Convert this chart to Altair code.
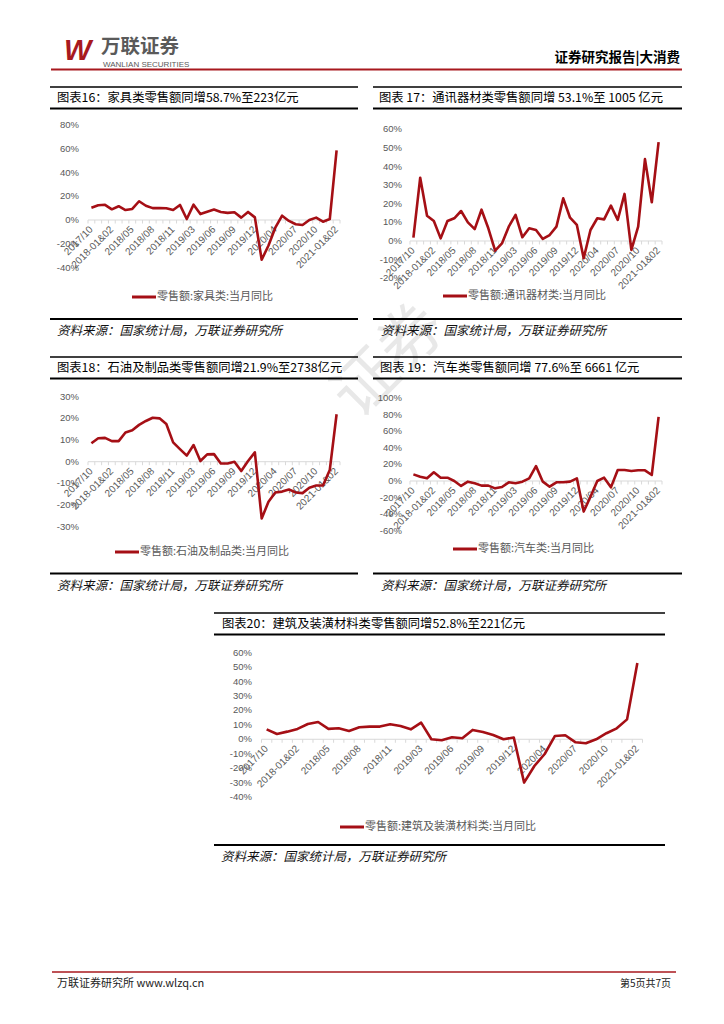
import altair as alt
import pandas as pd

# ---------------- data ----------------
months = ["2017/10", "2017/11", "2017/12", "2018-01&02", "2018/03", "2018/04", "2018/05",
          "2018/06", "2018/07", "2018/08", "2018/09", "2018/10", "2018/11", "2018/12",
          "2019-01&02", "2019/03", "2019/04", "2019/05", "2019/06", "2019/07", "2019/08",
          "2019/09", "2019/10", "2019/11", "2019/12", "2020-01&02", "2020/03", "2020/04",
          "2020/05", "2020/06", "2020/07", "2020/08", "2020/09", "2020/10", "2020/11",
          "2020/12", "2021-01&02"]

furniture = [10.4, 12.4, 12.8, 9.0, 11.6, 8.4, 9.3, 15.8, 12.0, 10.0, 10.0, 9.9, 8.4, 12.7,
             0.8, 12.9, 5.0, 7.0, 8.8, 6.8, 6.0, 6.5, 2.0, 6.8, 2.2, -33.5, -21.5, -6.5,
             3.6, -0.8, -3.6, -4.2, 0.0, 2.0, -1.4, 0.8, 58.7]
telecom = [1.8, 34.0, 13.6, 10.7, 1.4, 10.7, 12.2, 16.1, 10.0, 6.4, 16.8, 6.8, -5.2, -1.3,
           7.7, 14.0, 2.0, 6.8, 5.9, 1.1, 3.2, 7.7, 22.9, 12.5, 8.6, -9.3, 5.9, 12.2,
           11.6, 19.0, 11.3, 25.3, -4.8, 7.7, 44.0, 20.8, 53.1]
petroleum = [8.5, 10.8, 11.0, 9.5, 9.5, 13.5, 14.5, 17.0, 18.8, 20.3, 20.0, 17.4, 8.9, 5.8,
             2.8, 7.7, 0.3, 3.4, 3.5, -0.8, -0.8, 0.0, -4.3, 0.3, 4.3, -26.2, -18.5, -14.2,
             -13.8, -12.8, -14.2, -14.5, -12.0, -11.0, -11.0, -3.8, 21.9]
auto = [8.0, 5.2, 3.2, 10.5, 4.0, 4.0, 0.0, -6.0, -0.8, -2.8, -5.6, -5.6, -8.9, -7.3,
        -1.6, -2.8, -0.8, 3.2, 18.0, -0.8, -6.9, -1.6, -1.6, -0.8, 3.2, -37.0, -19.0, 0.0,
        4.0, -7.7, 13.3, 13.3, 12.0, 12.9, 12.9, 7.3, 77.6]
building = [6.9, 3.7, 5.3, 7.2, 10.6, 12.0, 7.2, 7.6, 5.8, 8.3, 8.8, 8.8, 10.4, 9.2,
            6.9, 11.5, 0.0, -0.7, 1.4, 0.7, 6.5, 5.1, 3.0, 0.0, 1.2, -30.0, -18.5, -10.2,
            2.3, 2.8, -2.1, -2.8, 0.0, 4.2, 7.6, 13.8, 52.8]

titles = ["图表16：家具类零售额同增58.7%至223亿元",
          "图表 17：通讯器材类零售额同增 53.1%至 1005 亿元",
          "图表18：石油及制品类零售额同增21.9%至2738亿元",
          "图表 19：汽车类零售额同增 77.6%至 6661 亿元",
          "图表20：建筑及装潢材料类零售额同增52.8%至221亿元"]
legends = ["零售额:家具类:当月同比", "零售额:通讯器材类:当月同比",
           "零售额:石油及制品类:当月同比", "零售额:汽车类:当月同比",
           "零售额:建筑及装潢材料类:当月同比"]
source = "资料来源：国家统计局，万联证券研究所"
y_ticks = [list(range(-40, 81, 20)), list(range(-20, 61, 10)), list(range(-30, 31, 10)),
           list(range(-60, 101, 20)), list(range(-40, 61, 10))]

# ---------------- styling ----------------
OFF = 8
RED = "#a50f15"
CJK = "Noto Sans CJK SC"
LAT = "Liberation Sans"
one = pd.DataFrame({"k": [0]})


def P(v):
    return v - OFF


def text(s, x, y, size, color="#000000", font=CJK, align="left", weight="normal",
         style="normal", angle=None, opacity=1.0):
    kw = dict(text=s, align=align, baseline="middle", font=font, fontSize=size,
              color=color, fontWeight=weight, fontStyle=style, opacity=opacity)
    if angle is not None:
        kw["angle"] = angle
    return alt.Chart(one).mark_text(**kw).encode(x=alt.value(P(x)), y=alt.value(P(y)))


def hline(x0, x1, y, w, color="#000000"):
    return alt.Chart(one).mark_rule(color=color, strokeWidth=w).encode(
        x=alt.value(P(x0)), x2=alt.value(P(x1)), y=alt.value(P(y)))


layers = []

# watermark (faint)
layers.append(text("证券", 390, 362, 64, color="#c4c4c4", align="center", angle=315,
                   opacity=0.38))

# header
layers.append(text("W", 64, 51, 29, color="#a8191e", font=LAT, weight="bold", style="italic"))
layers.append(text("万联证券", 101, 47, 19.5, color="#5a5a5a", weight="bold"))
layers.append(text("WANLIAN SECURITIES", 103, 65, 8, color="#5a5a5a", font=LAT))
layers.append(text("证券研究报告|大消费", 680, 58, 13.5, align="right", weight="bold"))
layers.append(hline(51, 682, 69.5, 2, "#a8191e"))

# footer
layers.append(hline(52, 676, 972, 1.5, "#a8191e"))
layers.append(text("万联证券研究所 www.wlzq.cn", 57, 984, 11, color="#222222"))
layers.append(text("第5页共7页", 671, 984, 10, color="#222222", align="right"))

panels = [
    dict(vals=furniture, ymin=-40, ymax=80, ybot=267.5, ytop=125, x0=88, x1=340, labx=79,
         bx0=50, bx1=358, top=87, tx=57, ly=297, lx=132, src=319, sx=57),
    dict(vals=telecom, ymin=-20, ymax=60, ybot=278.2, ytop=129.3, x0=410, x1=662, labx=402,
         bx0=373, bx1=682, top=87, tx=379, ly=296, lx=443, src=319, sx=381),
    dict(vals=petroleum, ymin=-30, ymax=30, ybot=526.7, ytop=396.7, x0=88, x1=340, labx=79,
         bx0=50, bx1=358, top=357, tx=57, ly=552, lx=115, src=573.5, sx=57),
    dict(vals=auto, ymin=-60, ymax=100, ybot=530.6, ytop=398.3, x0=410, x1=662, labx=402,
         bx0=373, bx1=682, top=357, tx=380, ly=549, lx=453, src=573.5, sx=381),
    dict(vals=building, ymin=-40, ymax=60, ybot=797, ytop=652.7, x0=261.5, x1=642.5, labx=252,
         bx0=214, bx1=665, top=613, tx=222, ly=827, lx=340, src=845, sx=221),
]

n = len(months)
for k, p in enumerate(panels):
    xs = alt.Scale(domain=[-0.5, n - 0.5], range=[P(p["x0"]), P(p["x1"])], nice=False, zero=False)
    ys = alt.Scale(domain=[p["ymin"], p["ymax"]], range=[P(p["ybot"]), P(p["ytop"])],
                   nice=False, zero=False)
    y0 = p["ybot"] + (0 - p["ymin"]) / (p["ymax"] - p["ymin"]) * (p["ytop"] - p["ybot"])

    # box lines, title, legend, source
    layers.append(hline(p["bx0"], p["bx1"], p["top"], 1.6))
    layers.append(hline(p["bx0"], p["bx1"], p["top"] + 21.5, 2.2))
    layers.append(text(titles[k], p["tx"], p["top"] + 11, 12.3))
    layers.append(hline(p["bx0"], p["bx1"], p["src"], 2.2))
    layers.append(text(source, p["sx"], p["src"] + 12, 12.5, color="#111111", style="italic"))
    layers.append(hline(p["lx"], p["lx"] + 24, p["ly"], 3, RED))
    layers.append(text(legends[k], p["lx"] + 25, p["ly"], 11, color="#595959"))

    # x axis line at zero
    layers.append(alt.Chart(pd.DataFrame({"z": [0]})).mark_rule(color="#d9d9d9", strokeWidth=1)
                  .encode(y=alt.Y("z:Q", scale=ys, axis=None),
                          x=alt.value(P(p["x0"])), x2=alt.value(P(p["x1"]))))
    # x ticks
    layers.append(alt.Chart(pd.DataFrame({"b": [i - 0.5 for i in range(n + 1)]}))
                  .mark_rule(color="#d9d9d9", strokeWidth=1)
                  .encode(x=alt.X("b:Q", scale=xs, axis=None),
                          y=alt.value(P(y0)), y2=alt.value(P(y0 + 3.5))))
    # x labels
    lab_df = pd.DataFrame({"i": list(range(0, n, 3)), "m": months[0::3]})
    layers.append(alt.Chart(lab_df).mark_text(angle=315, align="right", baseline="middle",
                                              font=LAT, fontSize=10, color="#595959")
                  .encode(x=alt.X("i:Q", scale=xs, axis=None),
                          y=alt.value(P(y0 + 8)), text="m:N"))
    # y labels
    t_df = pd.DataFrame({"t": y_ticks[k], "lab": [f"{t}%" for t in y_ticks[k]]})
    layers.append(alt.Chart(t_df).mark_text(align="right", baseline="middle", font=LAT,
                                            fontSize=9.5, color="#595959")
                  .encode(y=alt.Y("t:Q", scale=ys, axis=None),
                          x=alt.value(P(p["labx"])), text="lab:N"))
    # data line
    df = pd.DataFrame({"i": list(range(n)), "v": p["vals"], "m": months})
    layers.append(alt.Chart(df).mark_line(color=RED, strokeWidth=2.6, strokeJoin="round")
                  .encode(x=alt.X("i:Q", scale=xs, axis=None),
                          y=alt.Y("v:Q", scale=ys, axis=None)))

chart = (alt.layer(*layers)
         .resolve_scale(x="independent", y="independent")
         .properties(width=708, height=1008, autosize="none", padding=0)
         .configure_view(stroke=None))

chart.save("out.html", embed_options={"renderer": "svg", "actions": False})
